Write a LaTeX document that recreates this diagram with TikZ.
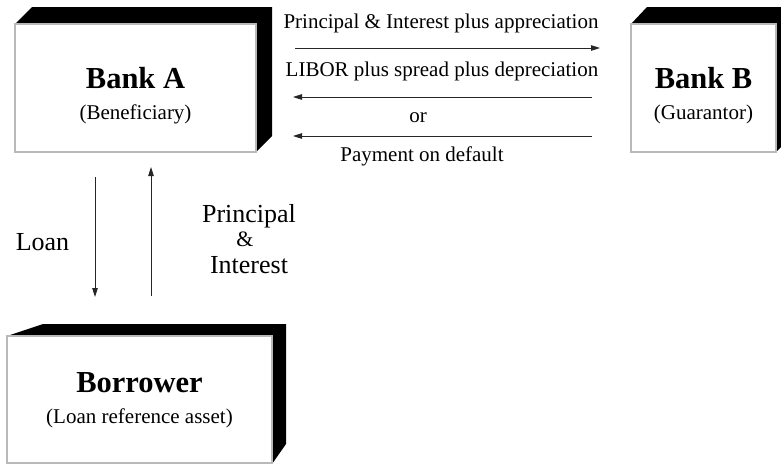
\documentclass[tikz,border=0pt]{standalone}
\usepackage{fontspec}
\setmainfont{Liberation Serif}
\usetikzlibrary{arrows.meta}
\begin{document}
\begin{tikzpicture}[x=1pt,y=-1pt,
  face/.style={draw=gray!55,line width=1.2pt,fill=white,inner sep=0pt},
  side/.style={fill=black},
  bold/.style={font=\fontsize{30.5}{32}\selectfont\bfseries,anchor=base,inner sep=0pt},
  sub/.style={font=\fontsize{21}{23}\selectfont,anchor=base,inner sep=0pt},
  small/.style={font=\fontsize{21}{23}\selectfont,anchor=base,inner sep=0pt},
  lbl/.style={font=\fontsize{26}{27}\selectfont,anchor=base,inner sep=0pt},
  flow/.style={draw=black!85,line width=0.9pt,-{Triangle[length=9pt,width=5.5pt]}}]
\clip (0,0) rectangle (781,464);
% Bank A
\fill[side] (15,24) -- (32,7) -- (272,7) -- (272,136) -- (256,152) -- (256,24) -- cycle;
\node[face,minimum width=241pt,minimum height=128pt] (bankA) at (135.5,88) {};
\node[bold] (bankAt) at (135.5,88) {Bank A};
\node[sub] (bankAs) at (135.5,119) {(Beneficiary)};
% Bank B
\fill[side] (631,24) -- (647,7) -- (792,7) -- (792,136) -- (776,152) -- (776,24) -- cycle;
\node[face,minimum width=145pt,minimum height=128pt] (bankB) at (703.5,88) {};
\node[bold] (bankBt) at (703.5,88) {Bank B};
\node[sub] (bankBs) at (703.5,119) {(Guarantor)};
% Borrower
\fill[side] (7,336) -- (43,324) -- (286,324) -- (286,444) -- (272,464) -- (272,336) -- cycle;
\node[face,minimum width=265pt,minimum height=127pt] (borr) at (139.5,399.5) {};
\node[bold] (borrt) at (139.5,392) {Borrower};
\node[sub] (borrs) at (139.5,423) {(Loan reference asset)};
% horizontal flows
\coordinate (p1s) at (295,48);  \coordinate (p1e) at (600,48);
\coordinate (p2s) at (592,97);  \coordinate (p2e) at (293,97);
\coordinate (p3s) at (592,136); \coordinate (p3e) at (293,136);
\draw[flow] (p1s) -- (p1e);
\draw[flow] (p2s) -- (p2e);
\draw[flow] (p3s) -- (p3e);
\node[small] (t1) at (441,28) {Principal \& Interest plus appreciation};
\node[small] (t2) at (442,76) {LIBOR plus spread plus depreciation};
\node[small] (t3) at (418,122) {or};
\node[small] (t4) at (422,161) {Payment on default};
% vertical flows
\coordinate (ls) at (95,177);  \coordinate (le) at (95,297);
\coordinate (us) at (151,296); \coordinate (ue) at (151,167);
\draw[flow] (ls) -- (le);
\draw[flow] (us) -- (ue);
\node[lbl] (loan) at (42.5,250) {Loan};
\node[lbl] (pr) at (249,222) {Principal};
\node[font=\fontsize{22}{23}\selectfont,anchor=base,inner sep=0pt] (amp) at (245,246) {\&};
\node[lbl] (int) at (249,273) {Interest};
\end{tikzpicture}
\end{document}
